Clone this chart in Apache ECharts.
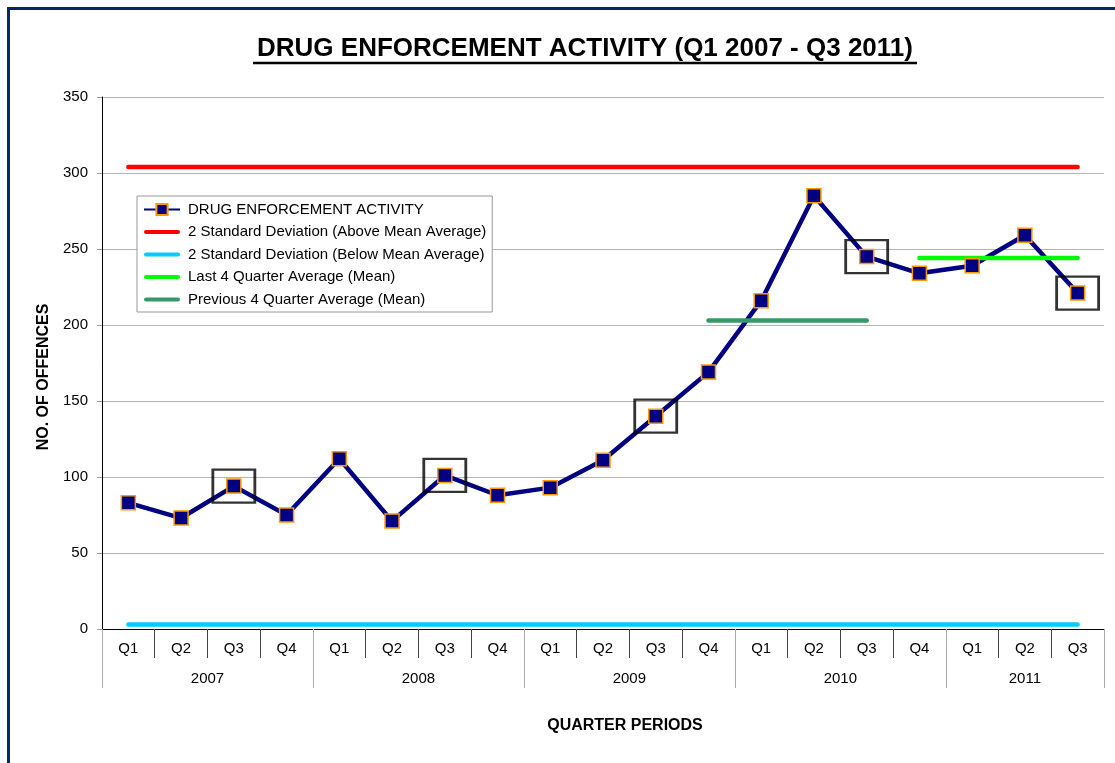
<!DOCTYPE html>
<html>
<head>
<meta charset="utf-8">
<title>Drug Enforcement Activity</title>
<script src="https://cdn.jsdelivr.net/npm/echarts@6/dist/echarts.min.js"></script>
<style>
  html, body { margin: 0; padding: 0; background: #fff; overflow: hidden; }
  #chart { width: 1115px; height: 763px; }
</style>
</head>
<body>
<div id="chart"></div>
<script>
  // data
  const years = ['2007', '2008', '2009', '2010', '2011']
  const quarterCounts = [4, 4, 4, 4, 3]
  const quarterNames = ['Q1', 'Q2', 'Q3', 'Q4']
  const yTicks = [0, 50, 100, 150, 200, 250, 300, 350]

  const activity = [83, 73, 94, 75, 112, 71, 101, 88, 93, 111, 140, 169, 216, 285, 245, 234, 239, 259, 221]
  const upperLimit = 304    // 2 SD above mean
  const lowerLimit = 3      // 2 SD below mean
  const lastFourMean = 244
  const lastFourStart = 15
  const prevFourMean = 203
  const prevFourStart = 11
  const highlighted = [2, 6, 10, 14, 18]   // boxed quarters

  // category labels, one per quarter
  const quarters = []
  years.forEach((y, i) => {
    for (let q = 0; q < quarterCounts[i]; q++) quarters.push(quarterNames[q])
  })

  // year group boundaries and centres on a 0..n value scale
  const yearEdges = [0]
  const yearMids = []
  quarterCounts.forEach((n) => {
    const start = yearEdges[yearEdges.length - 1]
    yearMids.push(start + n / 2)
    yearEdges.push(start + n)
  })

  const spanSeries = (value, start, len) =>
    quarters.map((q, i) => (i >= start && i < start + len ? value : null))

  const FONT = '"Liberation Sans", Arial, sans-serif'
  const lineIcon = 'path://M2,0h32a2,2 0 0 1 0,4h-32a2,2 0 0 1 0,-4z'

  const generateLimit = (name, color, data) => ({
    name,
    type: 'line',
    data,
    symbol: 'none',
    color,
    lineStyle: { width: 4.5, color, cap: 'round' },
    connectNulls: false,
    silent: true
  })

  const chart = echarts.init(document.getElementById('chart'))
  chart.setOption({
    animation: false,
    backgroundColor: '#fff',
    textStyle: { fontFamily: FONT },
    title: {
      text: 'DRUG ENFORCEMENT ACTIVITY (Q1 2007 - Q3 2011)',
      left: 585,
      top: 36,
      textAlign: 'center',
      padding: 0,
      textStyle: { fontSize: 26, fontWeight: 'bold', color: '#000', fontFamily: FONT }
    },
    legend: {
      orient: 'vertical',
      left: 137,
      top: 196,
      padding: [6, 6, 5, 6],
      itemWidth: 36,
      itemHeight: 14,
      itemGap: 7.5,
      backgroundColor: '#fff',
      borderColor: '#999',
      borderWidth: 1,
      borderRadius: 0,
      textStyle: { fontSize: 15, color: '#000', fontFamily: FONT, padding: [0, 0, 0, 3] },
      data: [
        { name: 'DRUG ENFORCEMENT ACTIVITY' },
        { name: '2 Standard Deviation (Above Mean Average)', icon: lineIcon },
        { name: '2 Standard Deviation (Below Mean Average)', icon: lineIcon },
        { name: 'Last 4 Quarter Average (Mean)', icon: lineIcon },
        { name: 'Previous 4 Quarter Average (Mean)', icon: lineIcon }
      ]
    },
    grid: { left: 102, right: 11, top: 97, bottom: 134 },
    xAxis: [
      {
        type: 'category',
        data: quarters,
        boundaryGap: true,
        position: 'bottom',
        axisLine: { lineStyle: { color: '#000', width: 1 } },
        axisTick: { show: true, interval: 0, length: 29, lineStyle: { color: '#444' } },
        axisLabel: { interval: 0, margin: 12, fontSize: 15, color: '#000', fontFamily: FONT },
        splitLine: { show: false }
      },
      {
        type: 'value',
        min: 0,
        max: quarters.length,
        position: 'bottom',
        axisLine: { show: false },
        splitLine: { show: false },
        axisTick: { show: true, customValues: yearEdges, length: 59, lineStyle: { color: '#aaa' } },
        axisLabel: {
          customValues: yearMids,
          margin: 42,
          fontSize: 15,
          color: '#000',
          fontFamily: FONT,
          formatter: (v) => years[yearMids.indexOf(v)] || ''
        }
      }
    ],
    yAxis: {
      type: 'value',
      min: 0,
      max: 350,
      interval: 50,
      axisLine: { show: true, lineStyle: { color: '#000', width: 1 } },
      axisTick: { show: true, length: 5, lineStyle: { color: '#999' } },
      axisLabel: { margin: 14, fontSize: 15, color: '#000', fontFamily: FONT,
        customValues: yTicks },
      splitLine: { lineStyle: { color: '#b4b4b4', width: 1 } }
    },
    graphic: [
      {
        type: 'rect',
        shape: { x: 8.5, y: 8.5, width: 1300, height: 900 },
        style: { fill: 'none', stroke: '#0b2464', lineWidth: 3 },
        silent: true
      },
      {
        type: 'line',
        shape: { x1: 253, y1: 63, x2: 917, y2: 63 },
        style: { stroke: '#000', lineWidth: 2.5 },
        silent: true
      },
      {
        type: 'text',
        x: 44,
        y: 377,
        rotation: Math.PI / 2,
        style: { text: 'NO. OF OFFENCES', fontSize: 16, fontWeight: 'bold', fill: '#000',
          fontFamily: FONT, align: 'center', verticalAlign: 'middle' },
        silent: true
      },
      {
        type: 'text',
        x: 625,
        y: 726,
        style: { text: 'QUARTER PERIODS', fontSize: 16, fontWeight: 'bold', fill: '#000',
          fontFamily: FONT, align: 'center', verticalAlign: 'middle' },
        silent: true
      }
    ],
    series: [
      {
        name: 'DRUG ENFORCEMENT ACTIVITY',
        type: 'line',
        data: activity,
        symbol: 'rect',
        symbolSize: 14,
        color: '#000080',
        lineStyle: { width: 4.5, color: '#000080' },
        itemStyle: { color: '#000080', borderColor: '#FF9900', borderWidth: 1.5 },
        z: 3
      },
      generateLimit('2 Standard Deviation (Above Mean Average)', '#FF0000', quarters.map(() => upperLimit)),
      generateLimit('2 Standard Deviation (Below Mean Average)', '#00CCFF', quarters.map(() => lowerLimit)),
      generateLimit('Last 4 Quarter Average (Mean)', '#00FF00', spanSeries(lastFourMean, lastFourStart, 4)),
      generateLimit('Previous 4 Quarter Average (Mean)', '#339966', spanSeries(prevFourMean, prevFourStart, 4)),
      {
        name: 'highlight',
        type: 'scatter',
        data: highlighted.map((i) => [i, activity[i]]),
        symbol: 'rect',
        symbolSize: [42, 33],
        itemStyle: { color: 'rgba(0,0,0,0)', borderColor: '#000', borderWidth: 2.5 },
        silent: true,
        z: 4
      }
    ]
  })
</script>
</body>
</html>
